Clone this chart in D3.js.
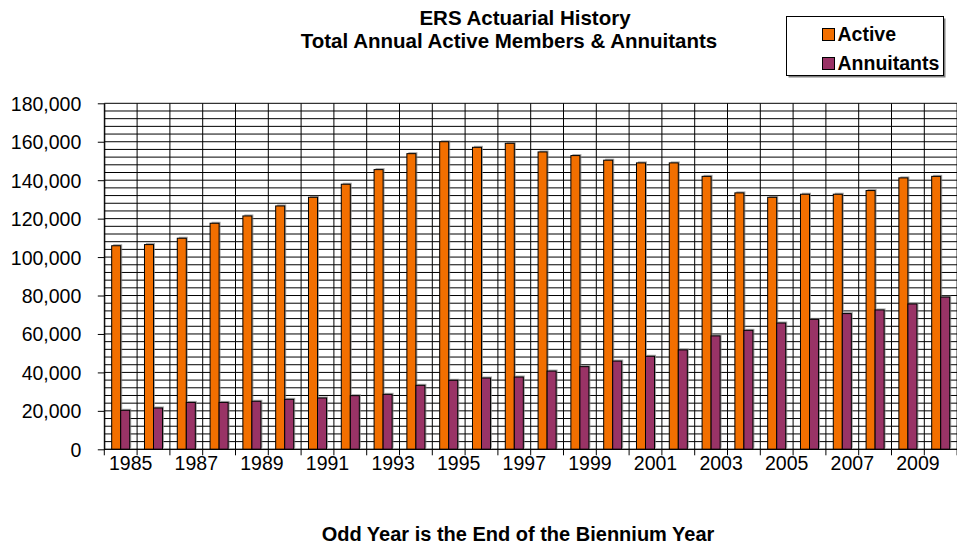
<!DOCTYPE html>
<html>
<head>
<meta charset="utf-8">
<script src="https://cdn.jsdelivr.net/npm/d3@7"></script>
<style>
  html, body { margin: 0; padding: 0; background: #fff; }
  svg { display: block; font-family: Arial, "Liberation Sans", sans-serif; }
</style>
</head>
<body>
<svg id="chart" width="957" height="548"></svg>
<script>
// ---- data ----
const years = [1985,1986,1987,1988,1989,1990,1991,1992,1993,1994,1995,1996,1997,1998,1999,2000,2001,2002,2003,2004,2005,2006,2007,2008,2009,2010];
const active = [105900,106500,109800,117600,121400,126600,131100,137900,145500,153800,160000,157100,159200,154700,152800,150400,149000,149000,142000,133400,131100,132700,132700,134600,141200,142000];
const annuitants = [20300,21500,24400,24400,25000,26000,26700,27900,28600,33300,35900,37100,37600,40700,43000,45900,48400,51700,59000,61900,65700,67600,70600,72500,75600,79200];
const seriesNames = ["Active", "Annuitants"];
const seriesColors = ["#F26F00", "#993366"];
const yTicks = [0,20000,40000,60000,80000,100000,120000,140000,160000,180000];
const xLabelYears = [1985,1987,1989,1991,1993,1995,1997,1999,2001,2003,2005,2007,2009];
const titleLines = ["ERS Actuarial History", "Total Annual Active Members & Annuitants"];
const footnote = "Odd Year is the End of the Biennium Year";

// ---- layout ----
const svg = d3.select("#chart");
const plot = { left: 104.3, right: 957.1, top: 103.3, bottom: 449.3 };

const x = d3.scaleBand().domain(years).range([plot.left, plot.right]).padding(0);
const bw = x.bandwidth();
const xInner = d3.scaleBand().domain(seriesNames).range([bw * 0.225, bw * 0.775]).padding(0);
const y = d3.scaleLinear().domain([0, 180000]).range([plot.bottom, plot.top]);

// horizontal grid lines every 4000
const gridVals = d3.range(0, 180001, 4000);
svg.append("g").selectAll("line").data(gridVals).join("line")
  .attr("x1", plot.left).attr("x2", plot.right)
  .attr("y1", d => y(d)).attr("y2", d => y(d))
  .attr("stroke", "#000").attr("stroke-width", 1);

// vertical grid lines at category boundaries
const bounds = years.map(d => x(d)).concat([plot.right]);
svg.append("g").selectAll("line").data(bounds).join("line")
  .attr("x1", d => d).attr("x2", d => d)
  .attr("y1", plot.top).attr("y2", plot.bottom)
  .attr("stroke", "#000").attr("stroke-width", 1);

// x-axis tick marks at boundaries
svg.append("g").selectAll("line").data(bounds).join("line")
  .attr("x1", d => d).attr("x2", d => d)
  .attr("y1", plot.bottom).attr("y2", plot.bottom + 6)
  .attr("stroke", "#000").attr("stroke-width", 1);

// bars
const rows = years.map((yr, i) => ({ year: yr, vals: [active[i], annuitants[i]] }));
const groups = svg.append("g").selectAll("g").data(rows).join("g")
  .attr("transform", d => `translate(${x(d.year)},0)`);
// shadows
groups.selectAll("rect.shadow").data(d => d.vals.map((v, k) => ({ k, v }))).join("rect")
  .attr("class", "shadow")
  .attr("x", d => xInner(seriesNames[d.k]) + 1.5)
  .attr("y", d => y(d.v) - 1.5)
  .attr("width", xInner.bandwidth())
  .attr("height", d => plot.bottom - y(d.v))
  .attr("fill", "#808080").attr("opacity", 0.7);
groups.selectAll("rect.bar").data(d => d.vals.map((v, k) => ({ k, v }))).join("rect")
  .attr("class", "bar")
  .attr("x", d => xInner(seriesNames[d.k]))
  .attr("y", d => y(d.v))
  .attr("width", xInner.bandwidth())
  .attr("height", d => plot.bottom - y(d.v))
  .attr("fill", d => seriesColors[d.k])
  .attr("stroke", "#000").attr("stroke-width", 1);

// y axis
const yAxis = svg.append("g")
  .attr("transform", `translate(${plot.left},0)`)
  .call(d3.axisLeft(y).tickValues(yTicks).tickFormat(d3.format(",")).tickSize(6.5).tickSizeOuter(0));
yAxis.select(".domain").attr("stroke", "#000");
yAxis.selectAll(".tick line").attr("stroke", "#000");
yAxis.selectAll(".tick text")
  .attr("x", -23).attr("dy", "0.36em")
  .attr("font-size", 19.5).attr("font-family", "Arial, 'Liberation Sans', sans-serif").attr("fill", "#000");

// x axis line
svg.append("line")
  .attr("x1", plot.left).attr("x2", plot.right)
  .attr("y1", plot.bottom).attr("y2", plot.bottom)
  .attr("stroke", "#000");

// x labels (odd years)
const xAxis = svg.append("g")
  .attr("transform", `translate(10,${plot.bottom})`)
  .call(d3.axisBottom(x).tickValues(xLabelYears).tickSize(0).tickPadding(7));
xAxis.select(".domain").remove();
xAxis.selectAll(".tick text")
  .attr("font-size", 19.5).attr("font-family", "Arial, 'Liberation Sans', sans-serif").attr("fill", "#000");

// title
svg.append("text").attr("x", 525).attr("y", 25).attr("text-anchor", "middle")
  .attr("font-size", 20.5).attr("font-weight", "bold").text(titleLines[0]);
svg.append("text").attr("x", 509).attr("y", 47.5).attr("text-anchor", "middle")
  .attr("font-size", 20.5).attr("font-weight", "bold").text(titleLines[1]);

// legend
const lg = svg.append("g");
lg.append("rect").attr("x", 788.5).attr("y", 18.5).attr("width", 157).attr("height", 59)
  .attr("fill", "#808080");
lg.append("rect").attr("x", 786.5).attr("y", 16.5).attr("width", 157).attr("height", 59)
  .attr("fill", "#fff").attr("stroke", "#000");
seriesNames.forEach((name, k) => {
  const yy = 28.5 + k * 29;
  lg.append("rect").attr("x", 822.5).attr("y", yy).attr("width", 12).attr("height", 12)
    .attr("fill", seriesColors[k]).attr("stroke", "#000");
  lg.append("text").attr("x", 837.5).attr("y", yy + 12.3)
    .attr("font-size", 19.5).attr("font-weight", "bold").text(name);
});

// footnote
svg.append("text").attr("x", 518).attr("y", 541).attr("text-anchor", "middle")
  .attr("font-size", 20).attr("font-weight", "bold").text(footnote);
</script>
</body>
</html>
